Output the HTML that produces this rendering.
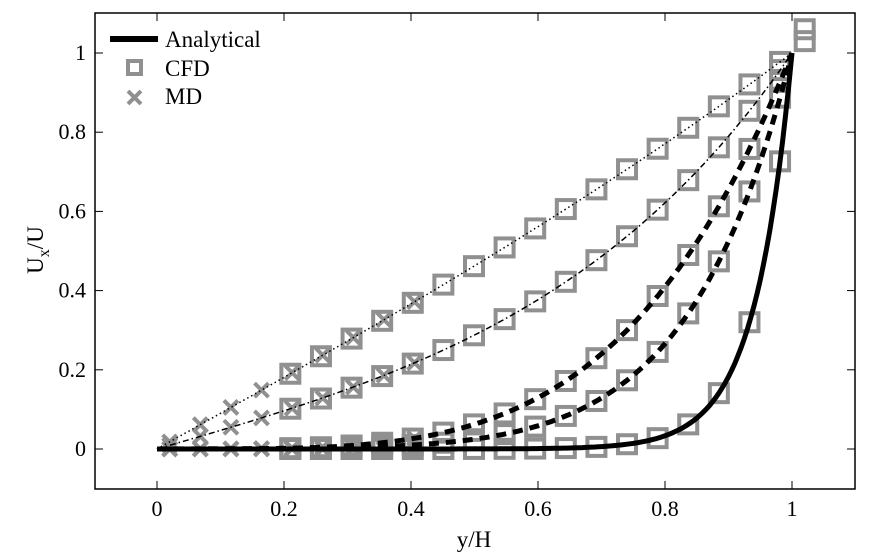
<!DOCTYPE html>
<html><head><meta charset="utf-8"><style>
body{margin:0;background:#fff;}
svg{display:block;font-family:"Liberation Serif","DejaVu Serif",serif;}
</style></head><body>
<svg id="s" width="875" height="553" viewBox="0 0 875 553" xmlns="http://www.w3.org/2000/svg" font-family="Liberation Serif, DejaVu Serif, serif">
<rect x="95" y="13" width="760" height="476" fill="none" stroke="#000" stroke-width="1.5"/>
<g id="ticks" stroke="#000" stroke-width="1"></g>
<g id="labels" font-size="22" fill="#000"></g>
<g id="marks"></g>
<g id="lines" fill="none" stroke="#000"></g>
<text x="474" y="547" font-size="23" text-anchor="middle">y/H</text>
<text transform="translate(43,250) rotate(-90)" font-size="23" text-anchor="middle">U<tspan font-size="16" dy="6">x</tspan><tspan dy="-6">/U</tspan></text>
<line x1="110" y1="39" x2="158" y2="39" stroke="#000" stroke-width="6"/>
<text x="165" y="47" font-size="23">Analytical</text>
<rect x="128" y="61" width="13" height="13" fill="none" stroke="#909090" stroke-width="4"/>
<text x="165" y="76" font-size="23">CFD</text>
<path d="M128,91 L141,104 M141,91 L128,104" stroke="#909090" stroke-width="4"/>
<text x="165" y="104" font-size="23">MD</text>
</svg>
<script>
const X=v=>157+635*v, Y=v=>449-396*v;
const NS="http://www.w3.org/2000/svg";
function el(p,t,a){const e=document.createElementNS(NS,t);for(const k in a)e.setAttribute(k,a[k]);document.getElementById(p).appendChild(e);return e;}
for(let i=0;i<=5;i++){const v=i*0.2,x=X(v);
el("ticks","line",{x1:x,y1:489,x2:x,y2:481});el("ticks","line",{x1:x,y1:13,x2:x,y2:21});
el("labels","text",{x:x,y:516,"text-anchor":"middle"}).textContent=i==0?"0":i==5?"1":v.toFixed(1);
const y=Y(v);
el("ticks","line",{x1:95,y1:y,x2:103,y2:y});el("ticks","line",{x1:855,y1:y,x2:847,y2:y});
el("labels","text",{x:86,y:y+7,"text-anchor":"end"}).textContent=i==0?"0":i==5?"1":v.toFixed(1);}
const sh=(a,y)=>Math.sinh(a*y)/Math.sinh(a);
const fs=[
 y=>sh(0.8,y),
 y=>sh(2.3,y),
 y=>Math.pow(y,4),
 y=>0.5*(sh(7.3,y)+Math.pow(y,5.4)),
 y=>sh(17,y)];
const st=[{w:1.5,d:"1.5 3"},{w:1.5,d:"6 3 1.5 3"},{w:5,d:"10 7"},{w:5,d:"10 7"},{w:5,d:""}];
fs.forEach((f,k)=>{
 for(let i=0;i<17;i++){const y=0.21+i*0.0482;el("marks","rect",{x:X(y)-9,y:Y(f(y))-9,width:18,height:18,fill:"none",stroke:"#909090","stroke-width":4});}
 for(let i=0;i<9;i++){const y=0.02+i*0.0482;const cx=X(y),cy=Y(f(y));el("marks","path",{d:`M${cx-7},${cy-7}L${cx+7},${cy+7}M${cx+7},${cy-7}L${cx-7},${cy+7}`,stroke:"#909090","stroke-width":4});}
 let d="";for(let i=0;i<=200;i++){const y=i/200;d+=(i?"L":"M")+X(y).toFixed(1)+","+Y(f(y)).toFixed(1);}
 el("lines","path",{d:d,"stroke-width":st[k].w,"stroke-dasharray":st[k].d});
});
[1.06,1.03].forEach(v=>el("marks","rect",{x:X(1.02)-9,y:Y(v)-9,width:18,height:18,fill:"none",stroke:"#909090","stroke-width":4}));
</script>
</body></html>
